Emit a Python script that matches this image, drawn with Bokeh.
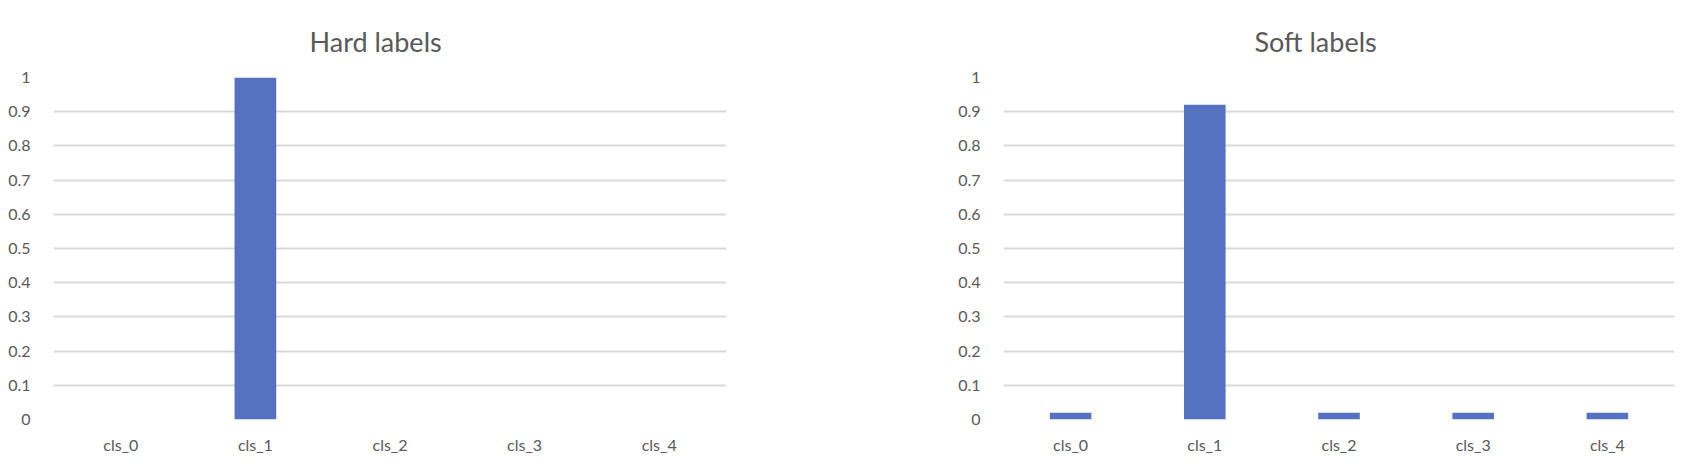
from bokeh.plotting import figure
from bokeh.layouts import row
from bokeh.models import Range1d, FactorRange, FixedTicker
from bokeh.embed import file_html
from bokeh.resources import INLINE

categories = ["cls_0", "cls_1", "cls_2", "cls_3", "cls_4"]
hard_values = [0, 1, 0, 0, 0]
soft_values = [0.02, 0.92, 0.02, 0.02, 0.02]
y_ticks = [0, 0.1, 0.2, 0.3, 0.4, 0.5, 0.6, 0.7, 0.8, 0.9, 1]
y_tick_labels = ["0", "0.1", "0.2", "0.3", "0.4", "0.5", "0.6", "0.7", "0.8", "0.9", "1"]
titles = ["Hard labels", "Soft labels"]

FONT = "Lato"
TEXT_COLOR = "#595959"
BAR_COLOR = "#5472C0"
GRID_COLOR = "#d9d9d9"


def make_chart(title, values, width, b_left, b_right, title_offset):
    p = figure(
        width=width, height=466,
        x_range=FactorRange(factors=categories, range_padding=0),
        y_range=Range1d(0, 1),
        output_backend="svg", toolbar_location=None,
        min_border_left=b_left, min_border_right=b_right,
        min_border_top=77, min_border_bottom=47,
        title=title,
    )
    p.vbar(x=categories, top=values, width=0.31, fill_color=BAR_COLOR, line_color=None)
    p.title.text_font = FONT
    p.title.text_font_size = "27px"
    p.title.text_font_style = "normal"
    p.title.text_color = TEXT_COLOR
    p.title.align = "left"
    p.title.offset = title_offset
    p.title.standoff = 40

    p.outline_line_color = None
    p.xgrid.grid_line_color = None
    p.ygrid.grid_line_color = GRID_COLOR
    p.ygrid.grid_line_width = 1.8
    p.ygrid.ticker = FixedTicker(ticks=y_ticks)

    p.yaxis.ticker = FixedTicker(ticks=y_ticks)
    p.yaxis.major_label_overrides = dict(zip(y_ticks, y_tick_labels))
    for ax in (p.xaxis, p.yaxis):
        ax.axis_line_color = None
        ax.major_tick_line_color = None
        ax.minor_tick_line_color = None
        ax.major_label_text_font = FONT
        ax.major_label_text_font_size = "16px"
        ax.major_label_text_color = TEXT_COLOR
    p.yaxis.major_label_standoff = 17
    p.xaxis.major_label_standoff = 9
    return p


p1 = make_chart(titles[0], hard_values, 858, 53, 132, 256)
p2 = make_chart(titles[1], soft_values, 839, 145, 23, 251)
layout = row(p1, p2)

open("out.html", "w").write(file_html(layout, INLINE))
